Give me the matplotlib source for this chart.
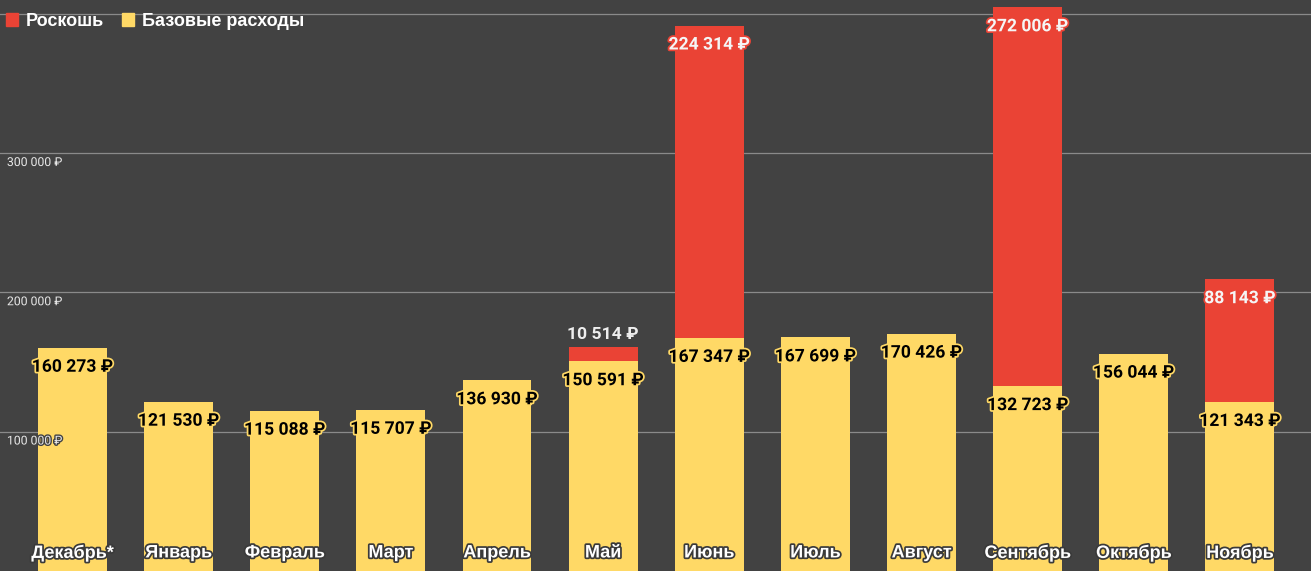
import matplotlib
matplotlib.use("Agg")
import matplotlib.pyplot as plt
import matplotlib.patheffects as pe
from matplotlib.patches import Patch

# Data
months = ["Декабрь*", "Январь", "Февраль", "Март", "Апрель", "Май",
          "Июнь", "Июль", "Август", "Сентябрь", "Октябрь", "Ноябрь"]
base = [160273, 121530, 115088, 115707, 136930, 150591,
        167347, 167699, 170426, 132723, 156044, 121343]
luxury = [0, 0, 0, 0, 0, 10514, 224314, 0, 0, 272006, 0, 88143]
yticks = [100000, 200000, 300000, 400000]

BG = "#424242"
YELLOW = "#FFD966"
RED = "#EA4335"

def rub(v):
    return f"{v:,}".replace(",", " ") + " ₽"

fig = plt.figure(figsize=(13.11, 5.71), dpi=100, facecolor=BG)
ax = fig.add_axes([0, 0, 1, 1])
ax.set_facecolor(BG)

x = list(range(len(months)))
w = 0.65
ax.bar(x, base, width=w, color=YELLOW, zorder=2)
ax.bar(x, luxury, width=w, bottom=base, color=RED, zorder=2)

ax.set_xlim(-0.683, 11.67)
ax.set_ylim(0, 410000)

# grid lines
for t in yticks:
    ax.axhline(t, color="#8a8a8a", lw=0.9, zorder=1)
    if t < 400000:
        ax.annotate(rub(t), (0, t), xycoords=("axes fraction", "data"),
                    xytext=(5, -2), textcoords="offset points", ha="left", va="top",
                    fontsize=8.8, color="#e8e8e8", family=["Roboto", "DejaVu Sans"], zorder=5,
                    path_effects=[pe.withStroke(linewidth=2, foreground=BG)])

lab_font = ["Roboto", "DejaVu Sans"]
for i in x:
    b = base[i]
    ax.annotate(rub(b), (i, b), xytext=(0, -14), textcoords="offset points",
                ha="center", va="center", fontsize=12.6, fontweight="bold",
                color="black", family=lab_font, zorder=4,
                path_effects=[pe.withStroke(linewidth=2.5, foreground=YELLOW)])
    l = luxury[i]
    if l > 0:
        top = b + l
        if l < 30000:
            ax.annotate(rub(l), (i, top), xytext=(0, 9), textcoords="offset points",
                        ha="center", va="center", fontsize=12.6, fontweight="bold",
                        color="#eeeeee", family=lab_font, zorder=4)
        else:
            ax.annotate(rub(l), (i, top), xytext=(0, -14), textcoords="offset points",
                        ha="center", va="center", fontsize=12.6, fontweight="bold",
                        color="#f5f5f5", family=lab_font, zorder=4,
                        path_effects=[pe.withStroke(linewidth=2.5, foreground=RED)])
    ax.annotate(months[i], (i, 0), xytext=(0, 13), textcoords="offset points",
                ha="center", va="center", fontsize=13, fontweight="bold",
                color="white", family=["Liberation Sans", "DejaVu Sans"], zorder=4,
                path_effects=[pe.withStroke(linewidth=2.5, foreground="#3a3a3a")])

for s in ax.spines.values():
    s.set_visible(False)
ax.set_xticks([])
ax.set_yticks([])

handles = [Patch(color=RED, label="Роскошь"), Patch(color=YELLOW, label="Базовые расходы")]
leg = ax.legend(handles=handles, loc="upper left", bbox_to_anchor=(-0.004, 0.997), ncol=2,
                frameon=False, handlelength=0.7, handleheight=0.7, handletextpad=0.4,
                columnspacing=1.0, borderaxespad=0.2,
                prop={"family": ["Liberation Sans", "DejaVu Sans"], "weight": "bold", "size": 13})
for t in leg.get_texts():
    t.set_color("white")

fig.savefig("out.png", dpi=100, facecolor=BG)
